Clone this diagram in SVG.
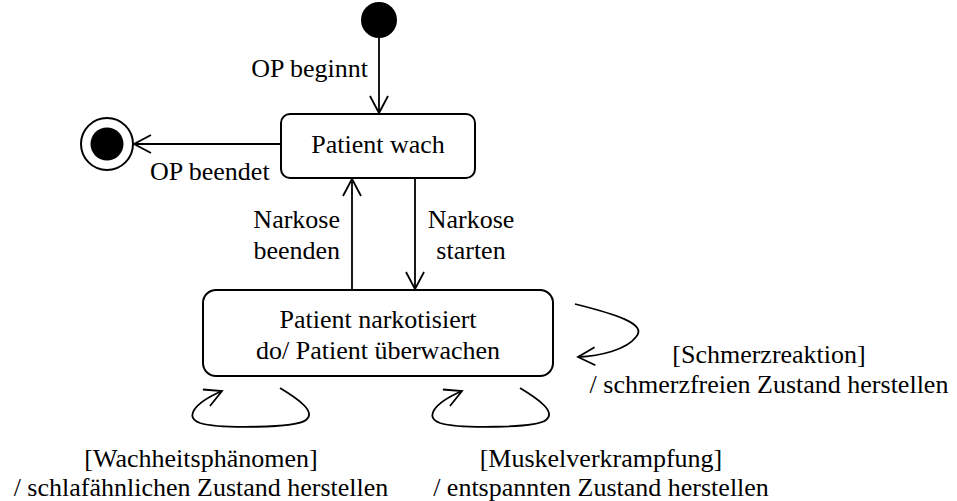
<svg xmlns="http://www.w3.org/2000/svg" width="957" height="501" viewBox="0 0 957 501">
<style>
text{font-family:'Liberation Serif','Times New Roman',Tinos,Times,'DejaVu Serif',serif;font-size:26px;fill:#000}
.box{fill:#fff;stroke:#000;stroke-width:2}
.c{fill:none;stroke:#000;stroke-width:1.8}
.m{text-anchor:middle}
.e{text-anchor:end}
</style>
<defs>
<marker id="arr" viewBox="0 0 20 20" refX="18" refY="10" markerWidth="20" markerHeight="20" markerUnits="userSpaceOnUse" orient="auto">
<path d="M1,1 L18,10 L1,19" fill="none" stroke="#000" stroke-width="1.8"/>
</marker>
</defs>
<rect width="957" height="501" fill="#fff"/>
<g font-family="Liberation Serif, Times New Roman, serif">
<g id="initial"><circle cx="379" cy="20" r="18" fill="#000"/></g>
<g id="final"><circle cx="107" cy="144" r="26" fill="#fff" stroke="#000" stroke-width="2"/><circle cx="107" cy="144" r="16.5" fill="#000"/></g>
<g id="wach"><rect class="box" x="281" y="114" width="194" height="64" rx="9"/><text class="m" x="378" y="153">Patient wach</text></g>
<g id="narkotisiert"><rect class="box" x="203" y="290" width="350" height="86" rx="13"/><text class="m" x="378" y="328">Patient narkotisiert</text><text class="m" x="378" y="359">do/ Patient überwachen</text></g>
<g id="connectors">
<line class="c" x1="379" y1="38" x2="379" y2="113" marker-end="url(#arr)"/>
<line class="c" x1="281" y1="144" x2="134" y2="144" marker-end="url(#arr)"/>
<line class="c" x1="352" y1="290" x2="352" y2="179" marker-end="url(#arr)"/>
<line class="c" x1="415" y1="178" x2="415" y2="289" marker-end="url(#arr)"/>
<path class="c" d="M575,304 C615,314 648,324 636,337 C626,350 600,356 578,357" marker-end="url(#arr)"/>
<path class="c" d="M280,388 C300,400 316,412 306,420 C296,428 220,429 200,423 C185,418 192,404 222,391" marker-end="url(#arr)"/>
<path class="c" d="M520,388 C540,400 556,412 546,420 C536,428 460,429 440,423 C425,418 432,404 462,391" marker-end="url(#arr)"/>
</g>
<g id="labels">
<text class="e" x="368" y="77">OP beginnt</text>
<text x="150" y="180">OP beendet</text>
<text class="e" x="340" y="228">Narkose</text>
<text class="e" x="340" y="259">beenden</text>
<text class="m" x="471" y="228">Narkose</text>
<text class="m" x="471" y="259">starten</text>
<text class="m" x="769" y="363">[Schmerzreaktion]</text>
<text class="m" x="769" y="393">/ schmerzfreien Zustand herstellen</text>
<text class="m" x="201" y="467">[Wachheitsphänomen]</text>
<text class="m" x="201" y="496">/ schlafähnlichen Zustand herstellen</text>
<text class="m" x="601" y="467">[Muskelverkrampfung]</text>
<text class="m" x="601" y="496">/ entspannten Zustand herstellen</text>
</g>
</g>
</svg>
